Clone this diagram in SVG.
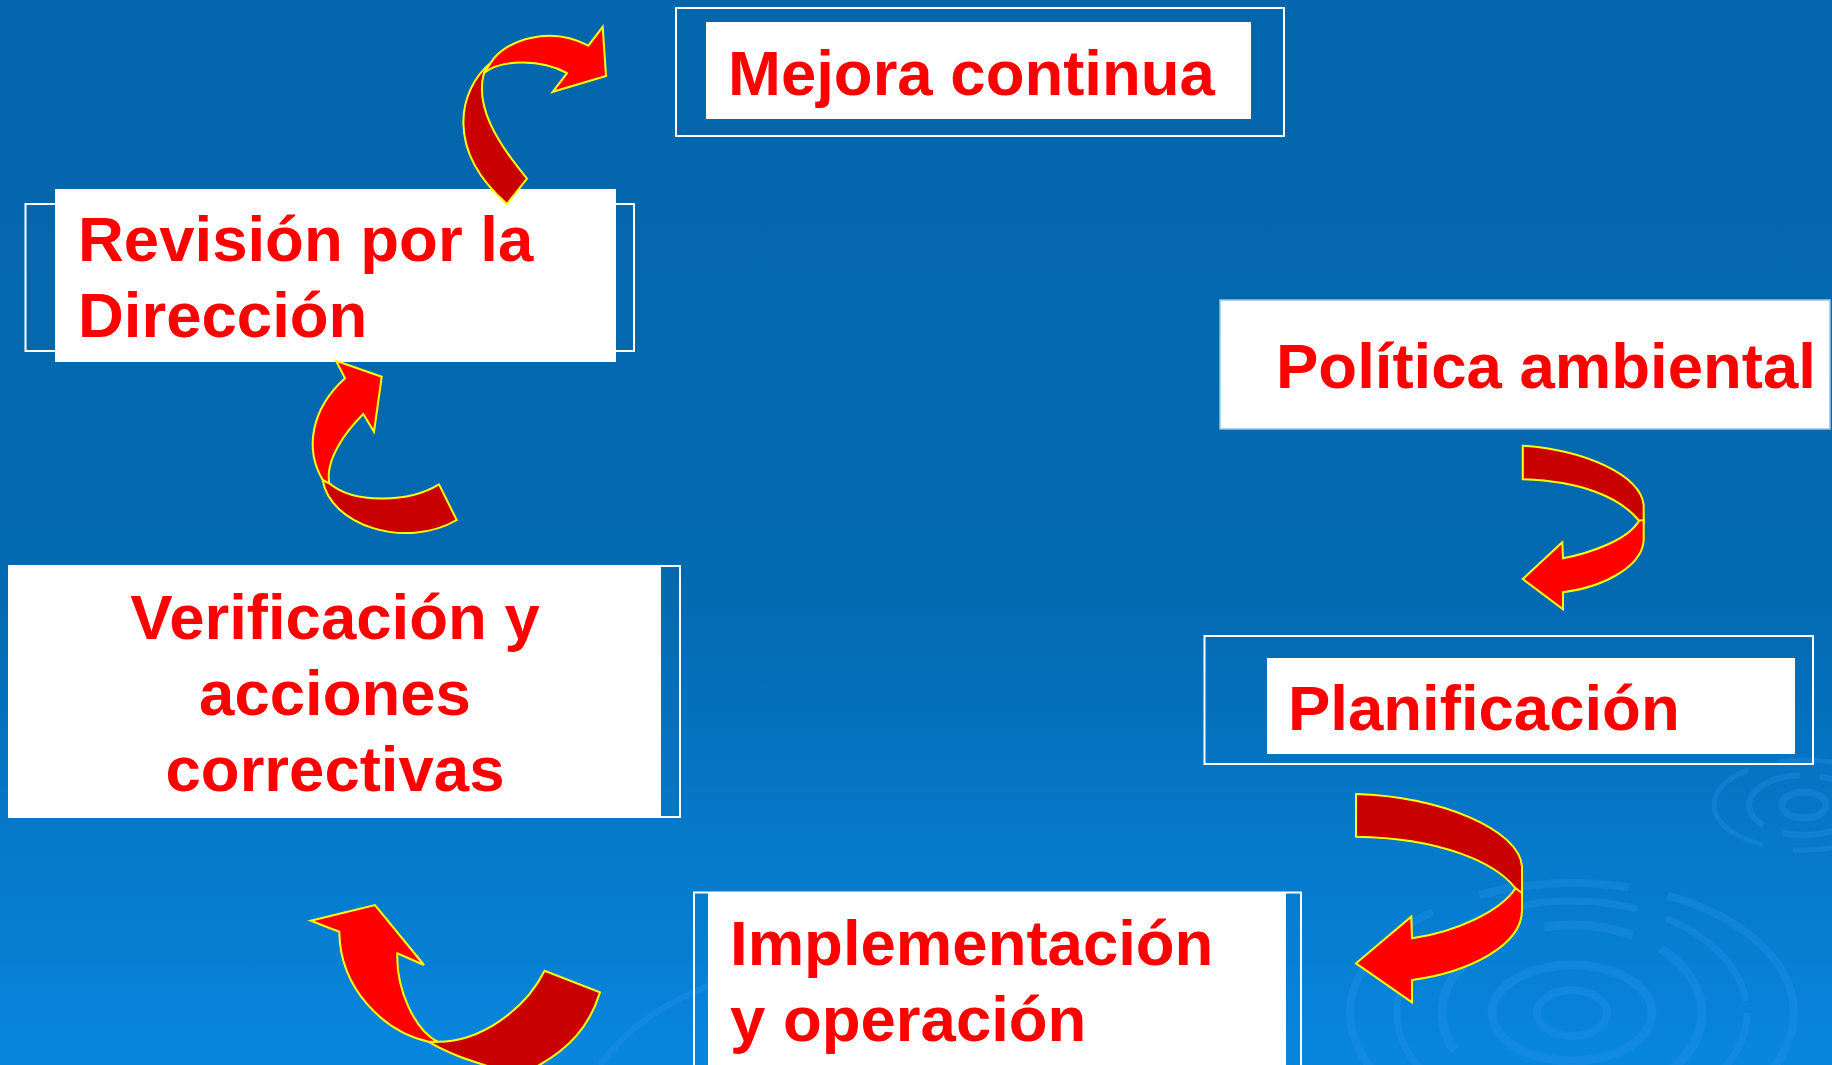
<svg xmlns="http://www.w3.org/2000/svg" width="1832" height="1065" viewBox="0 0 1832 1065">
<defs>
<linearGradient id="bg" x1="0" y1="0" x2="0" y2="1">
<stop offset="0" stop-color="#0466AC"/>
<stop offset="0.55" stop-color="#0369B0"/>
<stop offset="1" stop-color="#0886DE"/>
</linearGradient>
<style>
.lbl{font-family:"Liberation Sans",Arial,sans-serif;font-weight:bold;font-size:63.5px;fill:#FF0000}
.frame{fill:none;stroke:#FFFFFF;stroke-width:2}
.card{fill:#FFFFFF}
.front{fill:#FF0000;stroke:#FFFF00;stroke-width:2;stroke-linejoin:miter}
.back{fill:#C80000;stroke:#FFFF00;stroke-width:2;stroke-linejoin:miter}
.ring{fill:none;stroke:#2A96EE;stroke-opacity:0.3}
</style>
</defs>
<rect x="0" y="0" width="1832" height="1065" fill="url(#bg)"/>
<g id="ripples">
<ellipse class="ring" cx="1572" cy="1013" rx="35" ry="23" stroke-width="8"/>
<ellipse class="ring" cx="1572" cy="1013" rx="80" ry="48" stroke-width="9"/>
<ellipse class="ring" cx="1572" cy="1013" rx="130" ry="88" stroke-width="9" stroke-dasharray="160 25 90 30"/>
<ellipse class="ring" cx="1572" cy="1013" rx="175" ry="112" stroke-width="7" stroke-dasharray="120 40 200 30"/>
<ellipse class="ring" cx="1572" cy="1013" rx="222" ry="130" stroke-width="8" stroke-dasharray="230 50 150 40"/>
<ellipse class="ring" cx="1804" cy="805" rx="22" ry="13" stroke-width="7"/>
<ellipse class="ring" cx="1804" cy="805" rx="55" ry="30" stroke-width="6" stroke-dasharray="90 20"/>
<ellipse class="ring" cx="1804" cy="805" rx="90" ry="45" stroke-width="5" stroke-dasharray="120 30"/>
<path class="ring" d="M600,1065 C640,1010 700,985 760,970" stroke-width="6"/>
</g>
<g id="node-mejora">
<rect class="frame" x="676" y="8" width="608" height="128"/>
<rect class="card" x="706" y="22" width="545" height="97"/>
<text class="lbl" x="728" y="95">Mejora continua</text>
</g>
<g id="node-politica">
<rect class="card" x="1220" y="300" width="610" height="129" stroke="#9CC3E6" stroke-width="1.5"/>
<text class="lbl" x="1276" y="388">Política ambiental</text>
</g>
<g id="node-planificacion">
<rect class="frame" x="1204.5" y="636" width="608.5" height="128"/>
<rect class="card" x="1267" y="658" width="528" height="96"/>
<text class="lbl" x="1288" y="730">Planificación</text>
</g>
<g id="node-implementacion">
<rect class="frame" x="694" y="892.5" width="607" height="190"/>
<rect class="card" x="708" y="893" width="578" height="190"/>
<text class="lbl" x="730" y="965">Implementación</text>
<text class="lbl" x="730" y="1041">y operación</text>
</g>
<g id="node-verificacion">
<rect class="frame" x="9" y="566" width="671" height="251"/>
<rect class="card" x="9" y="566" width="652" height="251"/>
<text class="lbl" x="335" y="639" text-anchor="middle">Verificación y</text>
<text class="lbl" x="335" y="715" text-anchor="middle">acciones</text>
<text class="lbl" x="335" y="791" text-anchor="middle">correctivas</text>
</g>
<g id="node-revision">
<rect class="frame" x="25.5" y="204" width="608.5" height="147"/>
<rect class="card" x="55" y="189" width="561" height="173"/>
<text class="lbl" x="78" y="261">Revisión por la</text>
<text class="lbl" x="78" y="337">Dirección</text>
</g>
<g id="connectors">
<g id="arrow-politica-planificacion">
<path class="back" d="M1522.8,445.7 C1585,450 1640,475 1643.7,505 L1643.7,522 L1639,520.7 C1620,497 1580,481 1522.8,479.3 Z"/>
<path class="front" d="M1639,520.7 L1643.7,520 L1643.7,537 C1645,565 1605,587 1563,592.3 L1563,609.3 L1522.8,579 L1562.3,542.3 L1563,558.3 C1590,553 1628,540 1639,520.7 Z"/>
</g>
<g id="arrow-planificacion-implementacion">
<path class="back" d="M1356,794 C1440,796 1520,830 1522,866.7 L1522,895 L1515.5,888.3 C1495,862 1440,838 1356,836.7 Z"/>
<path class="front" d="M1515.5,888.3 L1522,893 L1522,910 C1522,945 1470,972 1412,980 L1412,1002.3 L1356,963.3 L1411.3,916.7 L1412,938.3 C1455,932 1500,912 1515.5,888.3 Z"/>
</g>
<g id="arrow-implementacion-verificacion">
<path class="back" d="M428.6,1041.7 L437.5,1041.7 C480,1042 525,1010 544.6,970.7 L600,992.3 C590,1025 570,1050 530,1070 L500,1070 C475,1062 450,1055 428.6,1041.7 Z"/>
<path class="front" d="M339.3,931.7 L310.7,920.7 L375,905 L424,965 L397.3,953.3 C396,990 415,1030 437.5,1041.7 L428.6,1041.7 C385,1032 340,990 339.3,931.7 Z"/>
</g>
<g id="arrow-verificacion-revision">
<path class="back" d="M322.7,480 C330,525 405,550 456.7,520 L439,484.3 C410,502 355,505 329.3,483.3 Z"/>
<path class="front" d="M345,378.3 L336,360.7 L381.7,376.7 L374,431.7 L363.3,414 C345,432 325,460 329.3,483.3 L322.7,480 C305,450 310,410 345,378.3 Z"/>
</g>
<g id="arrow-revision-mejora">
<path class="back" d="M491,62.5 C458,90 445,150 507,204 L527,178.6 C495,140 475,105 484,73 Z"/>
<path class="front" d="M491,62.5 C505,40 550,25 588.4,45.7 L602.7,26.8 L606,76 L552.7,91.8 L567,73.2 C540,58 500,60 484,73 Z"/>
</g>
</g>
</svg>
